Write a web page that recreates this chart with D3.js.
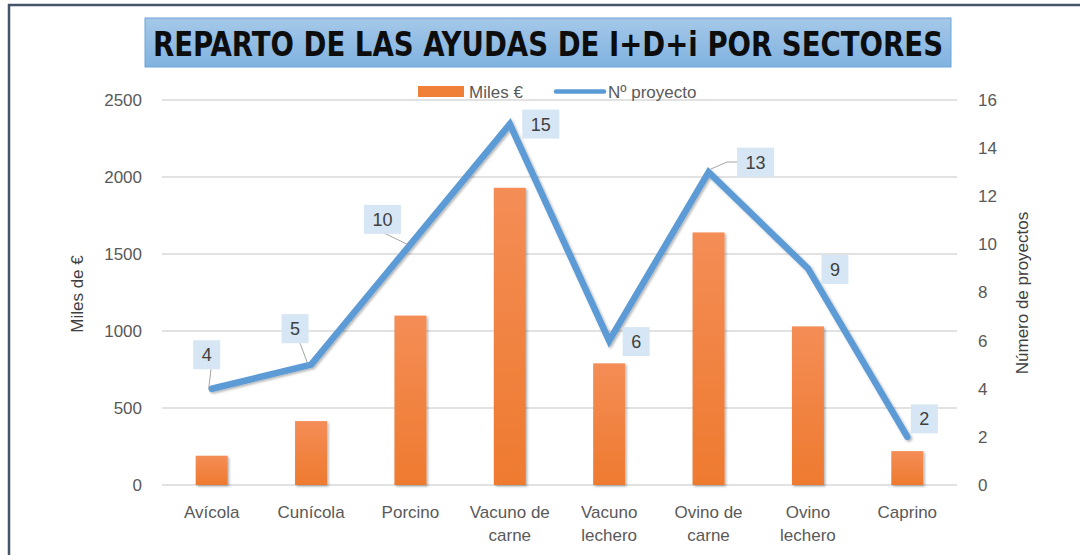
<!DOCTYPE html>
<html><head><meta charset="utf-8">
<script src="https://cdn.jsdelivr.net/npm/d3@7"></script>
<style>
html,body{margin:0;padding:0;background:#fff;}
svg{display:block;font-family:"Liberation Sans",Arial,sans-serif;}
</style></head>
<body>
<svg id="chart" width="1080" height="555"></svg>
<script>
const categories = [["Avícola"],["Cunícola"],["Porcino"],["Vacuno de","carne"],["Vacuno","lechero"],["Ovino de","carne"],["Ovino","lechero"],["Caprino"]];
const milesEuro = [190, 415, 1100, 1930, 790, 1640, 1030, 220];
const numProyectos = [4, 5, 10, 15, 6, 13, 9, 2];
const leftTicks = [0, 500, 1000, 1500, 2000, 2500];
const rightTicks = [0, 2, 4, 6, 8, 10, 12, 14, 16];
const titleText = "REPARTO DE LAS AYUDAS DE I+D+i POR SECTORES";
const seriesNames = ["Miles €", "Nº proyecto"];
// label box offsets from the point (layout)
const labelOffsets = [[-5,-34],[-16,-36],[-28,-25],[31,0],[27,1],[47,-10],[27,1],[17,-18]];

const svg = d3.select("#chart");
const defs = svg.append("defs");
const tg = defs.append("linearGradient").attr("id","tgrad").attr("x1",0).attr("y1",0).attr("x2",0).attr("y2",1);
tg.append("stop").attr("offset","0%").attr("stop-color","#a5c8e8");
tg.append("stop").attr("offset","100%").attr("stop-color","#80b2e0");
const bg = defs.append("linearGradient").attr("id","bgrad").attr("x1",0).attr("y1",0).attr("x2",0).attr("y2",1);
bg.append("stop").attr("offset","0%").attr("stop-color","#f48d56");
bg.append("stop").attr("offset","100%").attr("stop-color","#ee7a2f");
const sh = defs.append("filter").attr("id","shadow").attr("x","-20%").attr("y","-20%").attr("width","140%").attr("height","140%");
sh.append("feDropShadow").attr("dx",1.5).attr("dy",1.5).attr("stdDeviation",1.2).attr("flood-color","#000").attr("flood-opacity",0.3);

// border
svg.append("line").attr("x1",8).attr("x2",1080).attr("y1",5).attr("y2",5).attr("stroke","#44546a").attr("stroke-width",2.5);
svg.append("line").attr("x1",9).attr("x2",9).attr("y1",4).attr("y2",555).attr("stroke","#44546a").attr("stroke-width",2.5);

// title
svg.append("rect").attr("x",145).attr("y",18).attr("width",806).attr("height",49)
  .attr("fill","url(#tgrad)").attr("stroke","#6fa4d8").attr("stroke-width",1);
svg.append("text").attr("x",548).attr("y",55.5).attr("text-anchor","middle")
  .attr("font-family","'Liberation Sans Narrow','DejaVu Sans Condensed','Liberation Sans',sans-serif")
  .attr("font-size",34).attr("font-weight","bold").attr("fill","#0d0d0d")
  .attr("textLength",790).attr("lengthAdjust","spacingAndGlyphs").text(titleText);

const x = d3.scaleBand().domain(d3.range(categories.length)).range([162,957]).padding(0);
const yL = d3.scaleLinear().domain([0,2500]).range([485,100]);
const yR = d3.scaleLinear().domain([0,16]).range([485,100]);

// gridlines
svg.append("g").selectAll("line").data(leftTicks).join("line")
  .attr("x1",162).attr("x2",957).attr("y1",d=>yL(d)).attr("y2",d=>yL(d))
  .attr("stroke","#d9d9d9").attr("stroke-width",1.5);

// left axis
const axL = svg.append("g").attr("transform","translate(150,0)")
  .call(d3.axisLeft(yL).tickValues(leftTicks).tickFormat(d3.format("d")).tickSize(0).tickPadding(8));
axL.select(".domain").remove();
axL.selectAll("text").attr("font-size",17).attr("fill","#595959").attr("font-family","Liberation Sans, Arial, sans-serif");

// right axis
const axR = svg.append("g").attr("transform","translate(970,0)")
  .call(d3.axisRight(yR).tickValues(rightTicks).tickFormat(d3.format("d")).tickSize(0).tickPadding(8));
axR.select(".domain").remove();
axR.selectAll("text").attr("font-size",17).attr("fill","#595959").attr("font-family","Liberation Sans, Arial, sans-serif");

// axis titles
svg.append("text").attr("transform","translate(83,294) rotate(-90)").attr("text-anchor","middle")
  .attr("font-size",17).attr("fill","#404040").text("Miles de €");
svg.append("text").attr("transform","translate(1028,293) rotate(-90)").attr("text-anchor","middle")
  .attr("font-size",17).attr("fill","#404040").text("Número de proyectos");

// bars
const bw = 32;
svg.append("g").selectAll("rect").data(milesEuro).join("rect")
  .attr("x",(d,i)=>x(i)+x.bandwidth()/2-bw/2).attr("width",bw)
  .attr("y",d=>yL(d)).attr("height",d=>yL(0)-yL(d))
  .attr("fill","url(#bgrad)").attr("filter","url(#shadow)");

// category labels
const cl = svg.append("g").selectAll("text").data(categories).join("text")
  .attr("x",(d,i)=>x(i)+x.bandwidth()/2).attr("y",518).attr("text-anchor","middle")
  .attr("font-size",17).attr("fill","#595959");
cl.selectAll("tspan").data(d=>d).join("tspan")
  .attr("x",function(){return d3.select(this.parentNode).attr("x");})
  .attr("dy",(d,i)=>i===0?0:23).text(d=>d);

// line
const pts = numProyectos.map((v,i)=>[x(i)+x.bandwidth()/2, yR(v)]);
svg.append("path").datum(pts).attr("d",d3.line())
  .attr("fill","none").attr("stroke","#5b9bd5").attr("stroke-width",6.5)
  .attr("stroke-linejoin","miter").attr("stroke-linecap","round").attr("filter","url(#shadow)");

// leader lines
const leaders = [[0,[[211,369]]],[1,[[300,343]]],[2,[[384,233]]],[5,[[727,162],[738,162]]]];
leaders.forEach(([i,rest])=>{
  const p = pts[i];
  const q = [[p[0]+ (i===5?2:-3), p[1]+(i===5?-3:0)]].concat(rest);
  svg.append("path").attr("d",d3.line()(q)).attr("fill","none").attr("stroke","#a6a6a6").attr("stroke-width",1);
});

// data labels
const lg = svg.append("g").selectAll("g").data(numProyectos).join("g")
  .attr("transform",(d,i)=>`translate(${pts[i][0]+labelOffsets[i][0]},${pts[i][1]+labelOffsets[i][1]})`);
lg.append("rect").attr("x",d=>d>=10?-18.5:-13.5).attr("width",d=>d>=10?37:27)
  .attr("y",-14.5).attr("height",29).attr("fill","#d6e6f4");
lg.append("text").attr("text-anchor","middle").attr("dy","0.36em").attr("font-size",18)
  .attr("fill","#404040").text(d=>d);

// legend
svg.append("rect").attr("x",418).attr("y",86).attr("width",46).attr("height",11).attr("fill","#f07f38");
svg.append("text").attr("x",469).attr("y",98).attr("font-size",17).attr("fill","#595959").text(seriesNames[0]);
svg.append("line").attr("x1",556).attr("x2",604).attr("y1",91.5).attr("y2",91.5).attr("stroke","#5b9bd5").attr("stroke-width",4.5).attr("stroke-linecap","round");
svg.append("text").attr("x",608).attr("y",98).attr("font-size",17).attr("fill","#595959").text(seriesNames[1]);
</script>
</body></html>
